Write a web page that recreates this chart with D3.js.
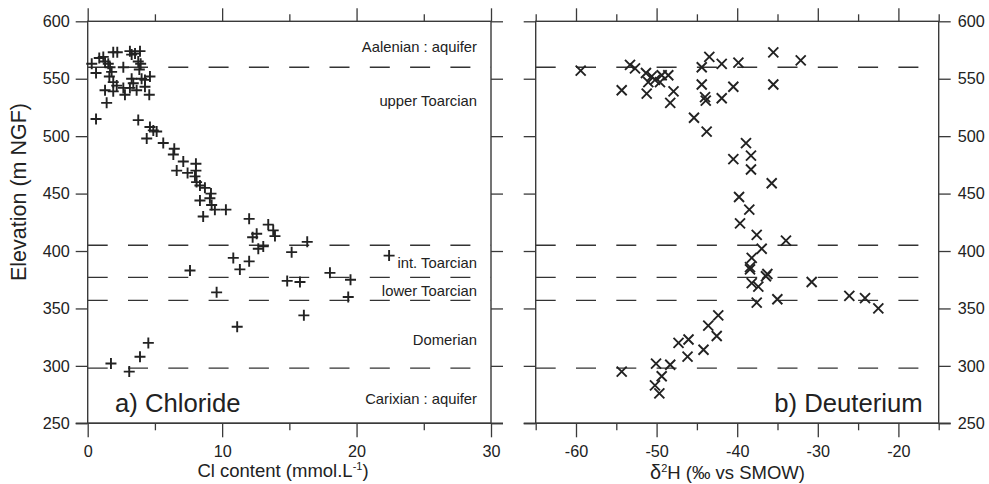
<!DOCTYPE html>
<html>
<head>
<meta charset="utf-8">
<script src="https://cdn.jsdelivr.net/npm/d3@7"></script>
<style>
  html, body { margin: 0; padding: 0; background: #fff; }
  svg { display: block; font-family: "Liberation Sans", Arial, Helvetica, sans-serif; }
  text { fill: #222; }
</style>
</head>
<body>
<svg id="chart" width="989" height="484"></svg>
<script>
// Chloride profile: Cl content (mmol/L) and sample elevation (m NGF)
const clContent = [0.30,0.62,0.86,1.16,1.29,1.53,1.66,1.78,1.61,1.90,2.20,2.65,3.14,3.27,3.52,3.89,3.76,3.94,3.84,3.27,3.39,4.01,4.26,4.63,1.90,2.16,1.29,1.90,2.65,2.77,3.14,3.64,4.26,4.58,1.41,0.62,3.76,4.63,4.88,5.13,4.39,5.62,6.44,6.37,7.11,6.62,7.43,8.05,8.05,7.98,8.10,8.35,8.72,9.17,9.09,8.35,9.22,9.46,10.28,8.59,12.01,13.43,13.80,13.93,12.57,12.27,12.69,13.06,15.17,16.33,10.83,11.32,12.01,7.61,9.59,14.84,15.79,18.02,19.55,19.38,22.42,16.08,11.12,1.73,3.09,3.89,4.51];
const clElevation = [563,555,568,569,565,563,560,556,552,573,573,560,574,571,572,574,565,563,558,550,546,550,549,552,547,544,540,539,542,536,542,540,543,536,529,515,514,508,505,504,498,494,489,484,478,470,468,476,470,465,460,457,455,450,446,444,440,436,436,430,428,423,418,413,415,412,402,404,399,408,394,384,391,383,364,374,373,381,375,360,396,344,334,302,295,308,320];

// Deuterium profile: δ2H (‰ vs SMOW) and sample elevation (m NGF)
const d2H = [-59.42,-54.33,-53.30,-52.68,-51.32,-51.03,-50.61,-50.20,-49.58,-49.37,-48.55,-51.23,-47.90,-48.31,-44.40,-43.46,-41.92,-39.85,-35.52,-32.12,-44.40,-43.99,-43.90,-41.92,-40.48,-35.52,-45.36,-43.79,-38.91,-40.48,-38.29,-38.29,-35.72,-39.77,-38.50,-39.65,-37.58,-33.95,-36.96,-38.20,-38.41,-38.41,-36.26,-36.43,-38.20,-37.38,-30.76,-37.58,-35.02,-26.09,-24.14,-22.49,-42.35,-43.59,-54.33,-50.07,-49.37,-50.20,-49.66,-48.31,-47.28,-46.04,-46.16,-44.18,-42.54];
const d2HElevation = [557,540,562,559,555,547,552,549,547,553,553,537,539,529,560,569,563,564,573,566,545,534,531,533,543,545,516,504,494,480,483,471,459,447,436,424,414,409,402,394,386,384,380,378,372,369,373,355,358,361,359,350,344,335,295,302,291,283,276,301,320,323,308,314,326];

// Stratigraphic boundaries (m NGF) and unit names
const boundaries = [560, 405, 377, 357, 298];
const unitNames = ["Aalenian : aquifer", "upper Toarcian", "int. Toarcian", "lower Toarcian", "Domerian", "Carixian : aquifer"];
const unitLabelElev = [577.5, 530.5, 389.5, 365, 323, 271];

const elevTicks = [250, 300, 350, 400, 450, 500, 550, 600];
const clTicks = [0, 10, 20, 30];
const d2HTicks = [-60, -50, -40, -30, -20];

const svg = d3.select("#chart");
const ink = "#222";
const axisInk = "#3a3a3a";
const plainNum = d => String(d);   // keeps an ASCII hyphen for negatives

const y = d3.scaleLinear().domain([250, 600]).range([423.3, 21.3]);
const xCl = d3.scaleLinear().domain([0, 30]).range([87.7, 491]);
const xD = d3.scaleLinear().domain([-65, -15]).range([535.7, 938.7]);

function styleAxis(g) {
  g.select(".domain").remove();
  g.selectAll(".tick line").attr("stroke", axisInk).attr("stroke-width", 1.3);
  g.selectAll(".tick text").attr("fill", ink).attr("font-size", 16.2).attr("font-family", "Liberation Sans, Arial, sans-serif");
}

function panel(x, majorTicks, minorTicks, leftLabels, rightLabels) {
  const [x0, x1] = x.range();
  const yb = y.range()[0], yt = y.range()[1];
  const g = svg.append("g");

  // boundary dashes
  g.selectAll("line.bound").data(boundaries).join("line")
    .attr("class", "bound")
    .attr("x1", x0).attr("x2", x1)
    .attr("y1", d => y(d)).attr("y2", d => y(d))
    .attr("stroke", "#333").attr("stroke-width", 1.3)
    .attr("stroke-dasharray", "20,20.3");

  // bottom axis
  g.append("g").attr("transform", `translate(0,${yb})`)
    .call(d3.axisBottom(x).tickValues(majorTicks).tickSize(14).tickPadding(8).tickFormat(plainNum))
    .call(styleAxis);
  g.append("g").attr("transform", `translate(0,${yb})`)
    .call(d3.axisBottom(x).tickValues(minorTicks).tickSize(7).tickFormat(""))
    .call(styleAxis);
  // top axis
  g.append("g").attr("transform", `translate(0,${yt})`)
    .call(d3.axisTop(x).tickValues(majorTicks).tickSize(13).tickFormat(""))
    .call(styleAxis);
  g.append("g").attr("transform", `translate(0,${yt})`)
    .call(d3.axisTop(x).tickValues(minorTicks).tickSize(7).tickFormat(""))
    .call(styleAxis);
  // left axis
  g.append("g").attr("transform", `translate(${x0},0)`)
    .call(d3.axisLeft(y).tickValues(elevTicks).tickSize(12).tickPadding(6).tickFormat(leftLabels ? plainNum : ""))
    .call(styleAxis);
  // right axis
  g.append("g").attr("transform", `translate(${x1},0)`)
    .call(d3.axisRight(y).tickValues(elevTicks).tickSize(12).tickPadding(7).tickFormat(rightLabels ? plainNum : ""))
    .call(styleAxis);

  // frame
  g.append("rect").attr("x", x0).attr("y", yt).attr("width", x1 - x0).attr("height", yb - yt)
    .attr("fill", "none").attr("stroke", axisInk).attr("stroke-width", 1.4);
  // axis baseline extends across the outer ticks
  g.append("line").attr("x1", x0 - 12).attr("x2", x1 + 12).attr("y1", yb).attr("y2", yb)
    .attr("stroke", axisInk).attr("stroke-width", 1.4);
  return g;
}

// ---- a) Chloride ----
const gA = panel(xCl, clTicks, [5, 15, 25], true, false);
const plus = "M-5.5,0H5.5M0,-5.5V5.5";
gA.selectAll("path.pt").data(clContent.map((v, i) => [v, clElevation[i]])).join("path")
  .attr("class", "pt")
  .attr("d", plus)
  .attr("transform", d => `translate(${xCl(d[0])},${y(d[1])})`)
  .attr("stroke", ink).attr("stroke-width", 1.9).attr("fill", "none");

gA.selectAll("text.unit").data(unitNames).join("text")
  .attr("class", "unit")
  .attr("x", 477).attr("y", (d, i) => y(unitLabelElev[i]))
  .attr("dy", "0.35em")
  .attr("text-anchor", "end")
  .attr("font-size", 14.8)
  .text(d => d);

gA.append("text").attr("x", 115).attr("y", 411.5).attr("font-size", 25.7).text("a) Chloride");

// ---- b) Deuterium ----
const gB = panel(xD, d2HTicks, [-65, -55, -45, -35, -25, -15], false, true);
const cross = "M-5,-5L5,5M-5,5L5,-5";
gB.selectAll("path.pt").data(d2H.map((v, i) => [v, d2HElevation[i]])).join("path")
  .attr("class", "pt")
  .attr("d", cross)
  .attr("transform", d => `translate(${xD(d[0])},${y(d[1])})`)
  .attr("stroke", ink).attr("stroke-width", 1.9).attr("fill", "none");

gB.append("text").attr("x", 922.7).attr("y", 411.5).attr("text-anchor", "end").attr("font-size", 25.7).text("b) Deuterium");

// ---- axis titles ----
const tCl = svg.append("text").attr("x", 283).attr("y", 476.5).attr("text-anchor", "middle").attr("font-size", 18.5);
tCl.append("tspan").text("Cl content (mmol.L");
tCl.append("tspan").attr("font-size", 11).attr("dy", -7).text("-1");
tCl.append("tspan").attr("dy", 7).text(")");

const tD = svg.append("text").attr("x", 727.5).attr("y", 478.5).attr("text-anchor", "middle").attr("font-size", 18.5);
tD.append("tspan").attr("font-size", 20).text("δ");
tD.append("tspan").attr("font-size", 11).attr("dy", -7).text("2");
tD.append("tspan").attr("dy", 7).text("H (‰ vs SMOW)");

svg.append("text")
  .attr("transform", "translate(26,192) rotate(-90)")
  .attr("text-anchor", "middle").attr("font-size", 21.5)
  .text("Elevation (m NGF)");
</script>
</body>
</html>
